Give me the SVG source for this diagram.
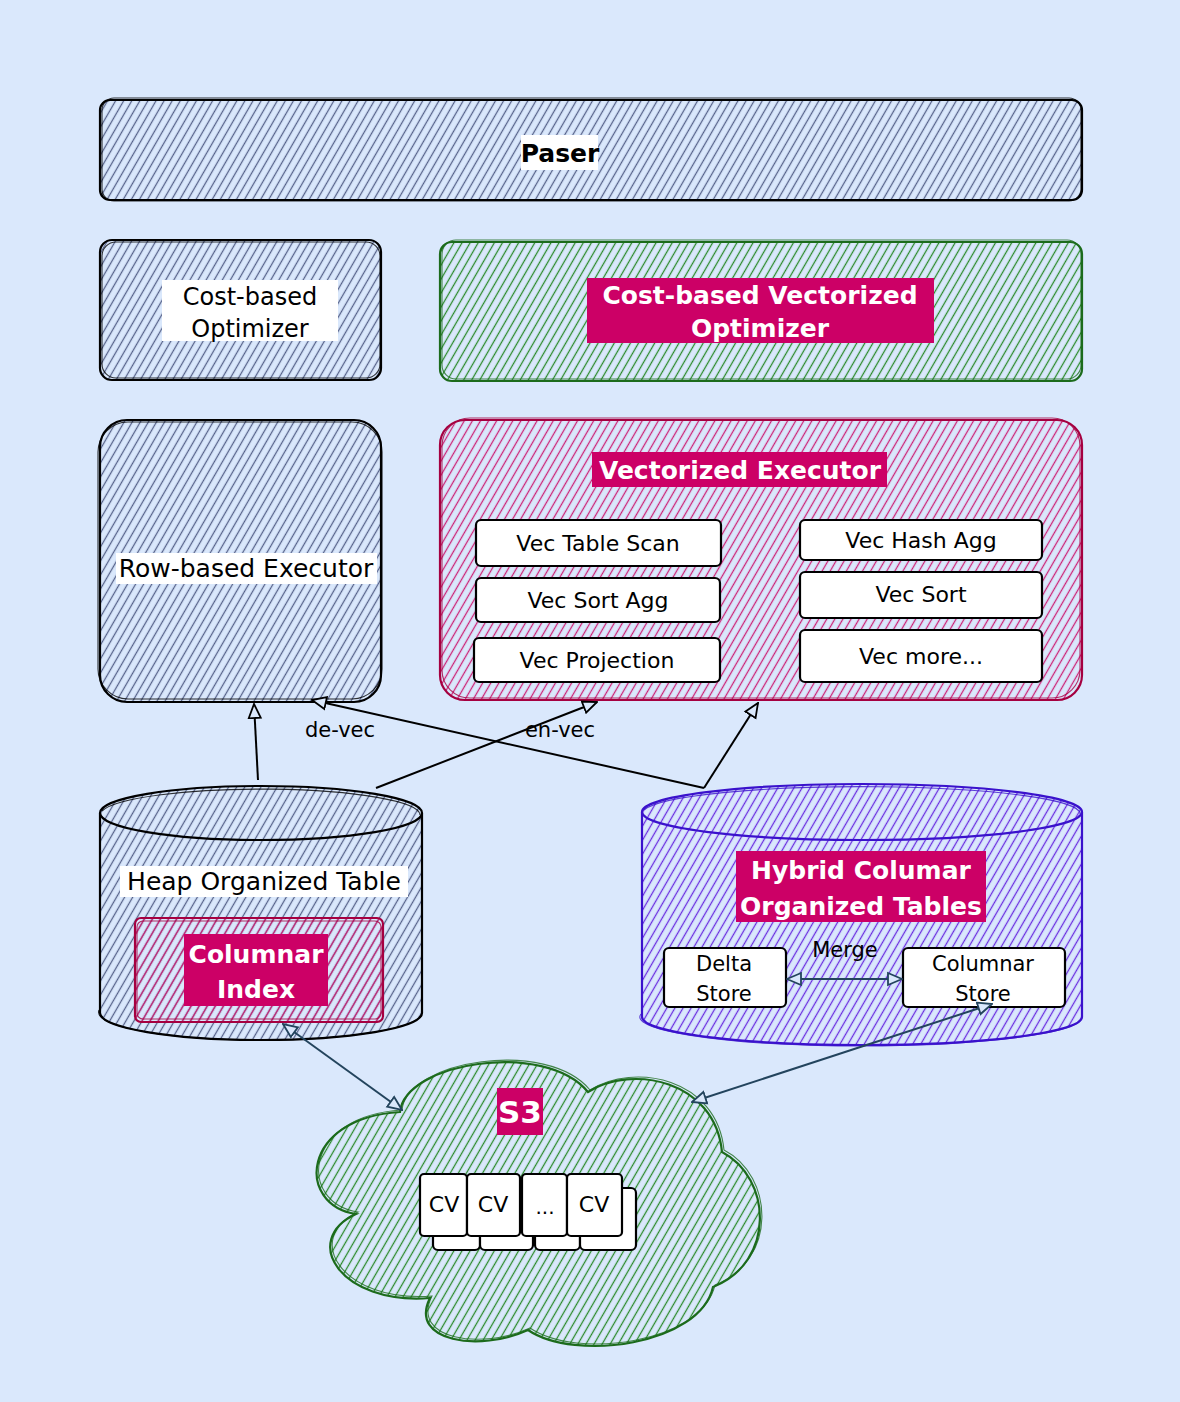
<svg xmlns="http://www.w3.org/2000/svg" width="1180" height="1402" viewBox="0 0 1180 1402">
  <defs>
    <pattern id="hSlate" patternUnits="userSpaceOnUse" width="7" height="7" patternTransform="rotate(30)">
      <line x1="3.5" y1="0" x2="3.5" y2="7" stroke="#56628a" stroke-width="1.3"/>
    </pattern>
    <pattern id="hGreen" patternUnits="userSpaceOnUse" width="7" height="7" patternTransform="rotate(30)">
      <line x1="3.5" y1="0" x2="3.5" y2="7" stroke="#2a8a2a" stroke-width="1.3"/>
    </pattern>
    <pattern id="hMag" patternUnits="userSpaceOnUse" width="7" height="7" patternTransform="rotate(30)">
      <line x1="3.5" y1="0" x2="3.5" y2="7" stroke="#cc2277" stroke-width="1.3"/>
    </pattern>
    <pattern id="hViolet" patternUnits="userSpaceOnUse" width="7" height="7" patternTransform="rotate(30)">
      <line x1="3.5" y1="0" x2="3.5" y2="7" stroke="#6a2ee0" stroke-width="1.3"/>
    </pattern>
    <marker id="aBlk" viewBox="0 0 16 16" refX="15" refY="8" markerWidth="16" markerHeight="16" markerUnits="userSpaceOnUse" orient="auto-start-reverse">
      <path d="M1,2 L15,8 L1,14 Z" fill="#dae8fc" stroke="#000" stroke-width="1.8"/>
    </marker>
    <marker id="aDark" viewBox="0 0 16 16" refX="15" refY="8" markerWidth="16" markerHeight="16" markerUnits="userSpaceOnUse" orient="auto-start-reverse">
      <path d="M1,2 L15,8 L1,14 Z" fill="#dae8fc" stroke="#23445d" stroke-width="1.8"/>
    </marker>
    <style>
      .t { font-family: "DejaVu Sans", "Liberation Sans", sans-serif; text-anchor: middle; }
      .n24 { font-size: 24px; fill: #000; }
      .n25 { font-size: 25px; fill: #000; }
      .n22 { font-size: 22px; fill: #000; }
      .n20 { font-size: 20px; fill: #000; }
      .n21 { font-size: 21px; fill: #000; }
      .bw { font-weight: bold; fill: #fff; font-size: 25px; }
      .bk { font-weight: bold; fill: #000; font-size: 25px; }
      .slate { fill: url(#hSlate); stroke: #000; stroke-width: 2.2; }
      .green { fill: url(#hGreen); stroke: #1c6b1c; stroke-width: 2.2; }
      .mag { fill: url(#hMag); stroke: #a50040; stroke-width: 2.2; }
      .violet { fill: url(#hViolet); stroke: #3a12cc; stroke-width: 2.2; }
      .sk { fill: none; stroke-width: 1.1; opacity: 0.8; }
      .wbox { fill: #fff; stroke: #000; stroke-width: 2.2; }
      .wbg { fill: #fff; }
      .mbg { fill: #cc0066; }
      .cn { fill: none; stroke: #000; stroke-width: 2; }
      .cd { fill: none; stroke: #23445d; stroke-width: 2; }
    </style>
  </defs>

  <rect x="0" y="0" width="1180" height="1402" fill="#dae8fc"/>

  <g id="paser">
    <rect class="slate" x="100" y="100" width="982" height="100" rx="10"/>
    <rect class="sk" stroke="#000" x="102" y="98" width="979" height="103" rx="12"/>
    <rect class="wbg" x="521" y="135" width="77" height="35"/>
    <text class="t bk" x="560" y="162">Paser</text>
  </g>

  <g id="cost-optimizer">
    <rect class="slate" x="100" y="240" width="281" height="140" rx="12"/>
    <rect class="sk" stroke="#000" x="102" y="242" width="278" height="136" rx="14"/>
    <rect class="wbg" x="162" y="280" width="176" height="61"/>
    <text class="t n24" x="250" y="305">Cost-based</text>
    <text class="t n24" x="250" y="337">Optimizer</text>
  </g>

  <g id="vec-optimizer">
    <rect class="green" x="440" y="242" width="642" height="139" rx="12"/>
    <rect class="sk" stroke="#1c6b1c" x="442" y="240" width="639" height="139" rx="14"/>
    <rect class="mbg" x="587" y="278" width="347" height="65"/>
    <text class="t bw" x="760" y="304">Cost-based Vectorized</text>
    <text class="t bw" x="760" y="337">Optimizer</text>
  </g>

  <g id="row-executor">
    <rect class="slate" x="100" y="420" width="281" height="282" rx="27"/>
    <rect class="sk" stroke="#000" x="98" y="422" width="284" height="277" rx="30"/>
    <rect class="wbg" x="116" y="553" width="261" height="31"/>
    <text class="t n25" x="246" y="577">Row-based Executor</text>
  </g>

  <g id="vec-executor">
    <rect class="mag" x="440" y="420" width="642" height="280" rx="25"/>
    <rect class="sk" stroke="#a50040" x="442" y="418" width="638" height="280" rx="28"/>
    <rect class="mbg" x="592" y="452" width="295" height="35"/>
    <text class="t bw" x="740" y="479">Vectorized Executor</text>
  </g>

  <g id="vec-table-scan">
    <rect class="wbox" x="476" y="520" width="245" height="46" rx="5"/>
    <text class="t n22" x="598" y="551">Vec Table Scan</text>
  </g>
  <g id="vec-sort-agg">
    <rect class="wbox" x="476" y="578" width="244" height="44" rx="5"/>
    <text class="t n22" x="598" y="608">Vec Sort Agg</text>
  </g>
  <g id="vec-projection">
    <rect class="wbox" x="474" y="638" width="246" height="44" rx="5"/>
    <text class="t n22" x="597" y="668">Vec Projection</text>
  </g>
  <g id="vec-hash-agg">
    <rect class="wbox" x="800" y="520" width="242" height="40" rx="5"/>
    <text class="t n22" x="921" y="548">Vec Hash Agg</text>
  </g>
  <g id="vec-sort">
    <rect class="wbox" x="800" y="572" width="242" height="46" rx="5"/>
    <text class="t n22" x="921" y="602">Vec Sort</text>
  </g>
  <g id="vec-more">
    <rect class="wbox" x="800" y="630" width="242" height="52" rx="5"/>
    <text class="t n22" x="921" y="664">Vec more...</text>
  </g>

  <g id="heap-table">
    <path class="slate" d="M100,813 A161,27 0 0 1 422,813 L422,1013 A161,27 0 0 1 100,1013 Z"/>
    <path fill="none" stroke="#000" stroke-width="2.2" d="M100,813 A161,27 0 0 0 422,813"/>
    <path class="sk" stroke="#000" d="M102,811 A160,26 0 0 1 420,815 M99,1010 A162,28 0 0 0 421,1016"/>
    <rect class="wbg" x="120" y="866" width="288" height="31"/>
    <text class="t n25" x="264" y="890">Heap Organized Table</text>
  </g>

  <g id="columnar-index">
    <rect class="mag" x="135" y="918" width="248" height="104" rx="6"/>
    <rect class="sk" stroke="#a50040" x="137" y="921" width="244" height="98" rx="6"/>
    <rect class="mbg" x="184" y="934" width="144" height="72"/>
    <text class="t bw" x="256" y="963">Columnar</text>
    <text class="t bw" x="256" y="998">Index</text>
  </g>

  <g id="hybrid-table">
    <path class="violet" d="M642,812 A220,28 0 0 1 1082,812 L1082,1017 A220,28 0 0 1 642,1017 Z"/>
    <path fill="none" stroke="#3a12cc" stroke-width="2.2" d="M642,812 A220,28 0 0 0 1082,812"/>
    <path class="sk" stroke="#3a12cc" d="M644,810 A219,27 0 0 1 1080,814 M641,1014 A221,29 0 0 0 1081,1020"/>
    <rect class="mbg" x="736" y="851" width="250" height="71"/>
    <text class="t bw" x="861" y="879">Hybrid Columar</text>
    <text class="t bw" x="861" y="915">Organized Tables</text>
  </g>

  <g id="delta-store">
    <rect class="wbox" x="664" y="948" width="122" height="59" rx="5"/>
    <text class="t n21" x="724" y="971">Delta</text>
    <text class="t n21" x="724" y="1001">Store</text>
  </g>

  <g id="columnar-store">
    <rect class="wbox" x="903" y="948" width="162" height="59" rx="5"/>
    <text class="t n21" x="983" y="971">Columnar</text>
    <text class="t n21" x="983" y="1001">Store</text>
  </g>

  <g id="s3">
    <path class="green" d="M400,1112 C405,1062 545,1040 588,1092 C632,1064 715,1080 722,1152 C772,1178 776,1262 713,1287 C700,1345 575,1362 528,1330 C480,1352 408,1342 430,1298 C340,1305 300,1240 356,1214 C296,1205 300,1118 400,1112 Z"/>
    <path class="sk" stroke="#1c6b1c" d="M402,1110 C407,1060 547,1038 590,1090 C634,1062 717,1078 724,1150 C774,1176 778,1260 715,1285 C702,1343 577,1360 530,1328 C482,1350 410,1340 432,1296 C342,1303 302,1238 358,1212 C298,1203 302,1116 402,1110 Z"/>
    <rect class="mbg" x="497" y="1088" width="46" height="47"/>
    <text class="t" x="520" y="1123" style="font-size:31px;font-weight:bold;fill:#fff">S3</text>
  </g>

  <g id="cv-blocks">
    <rect class="wbox" x="433" y="1188" width="47" height="62" rx="5"/>
    <rect class="wbox" x="480" y="1188" width="53" height="62" rx="5"/>
    <rect class="wbox" x="535" y="1188" width="45" height="62" rx="5"/>
    <rect class="wbox" x="580" y="1188" width="56" height="62" rx="5"/>
    <rect class="wbox" x="420" y="1174" width="47" height="62" rx="4"/>
    <rect class="wbox" x="467" y="1174" width="53" height="62" rx="4"/>
    <rect class="wbox" x="522" y="1174" width="45" height="62" rx="4"/>
    <rect class="wbox" x="567" y="1174" width="55" height="62" rx="4"/>
    <text class="t n22" x="444" y="1212">CV</text>
    <text class="t n22" x="493" y="1212">CV</text>
    <text class="t n20" x="545" y="1214">...</text>
    <text class="t n22" x="594" y="1212">CV</text>
  </g>

  <g id="connectors">
    <path class="cn" d="M258,780 L254,704" marker-end="url(#aBlk)"/>
    <path class="cn" d="M704,788 L312,700" marker-end="url(#aBlk)"/>
    <path class="cn" d="M376,788 L597,702" marker-end="url(#aBlk)"/>
    <path class="cn" d="M704,788 L758,703" marker-end="url(#aBlk)"/>
    <path class="cd" d="M787,979 L902,979" marker-start="url(#aDark)" marker-end="url(#aDark)"/>
    <path class="cd" d="M283,1024 L402,1110" marker-start="url(#aDark)" marker-end="url(#aDark)"/>
    <path class="cd" d="M992,1004 L692,1102" marker-start="url(#aDark)" marker-end="url(#aDark)"/>
    <text class="t n21" x="340" y="737">de-vec</text>
    <text class="t n21" x="560" y="737">en-vec</text>
    <text class="t n21" x="845" y="957">Merge</text>
  </g>
</svg>
